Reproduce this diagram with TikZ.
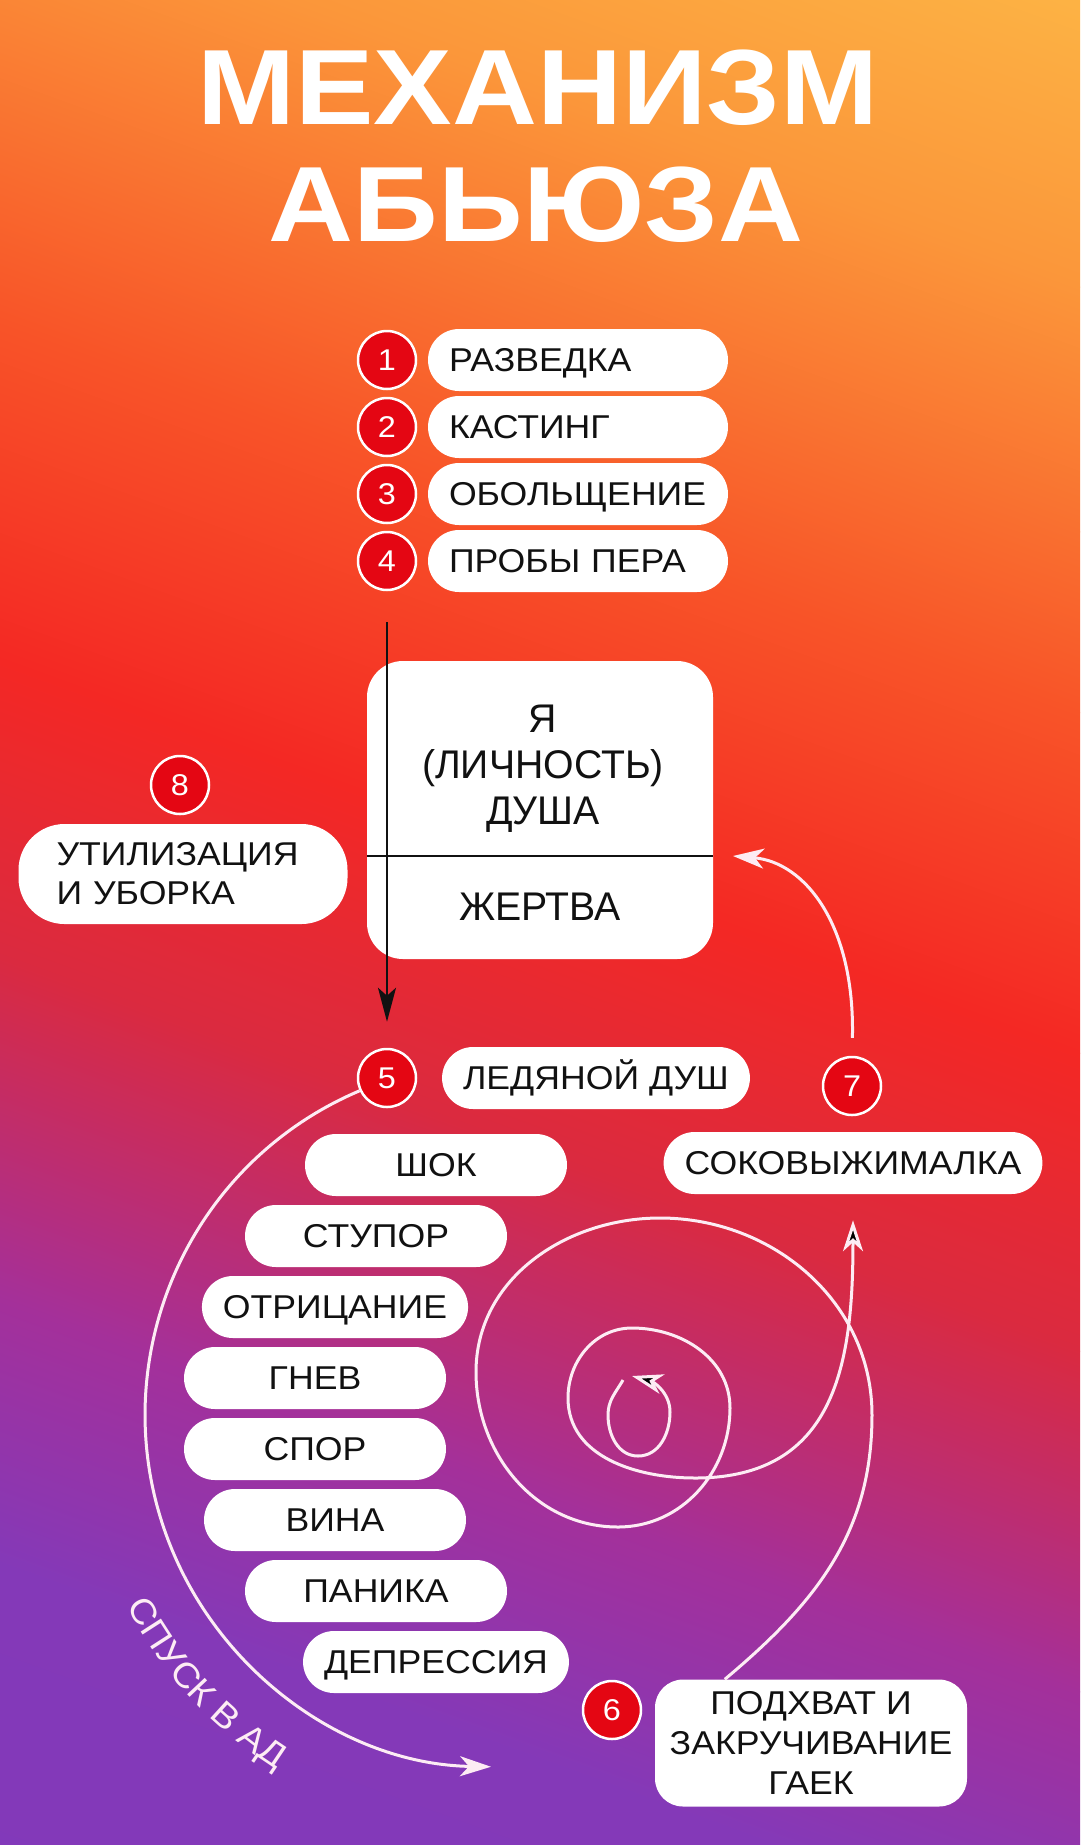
\documentclass[tikz,border=0pt]{standalone}
\usepackage{fontspec}
\setmainfont{Liberation Sans}[FakeStretch=1.08]
\newfontfamily\headfont{Liberation Sans}[FakeStretch=1.1]
\newfontfamily\boxfont{Liberation Sans}[FakeStretch=0.98]
\usetikzlibrary{arrows.meta,decorations.text}

\definecolor{numred}{RGB}{228,6,19}
\definecolor{inkblack}{RGB}{17,17,17}
\definecolor{flowwhite}{RGB}{253,236,244}
\definecolor{bgA}{RGB}{253,184,70}
\definecolor{bgB}{RGB}{251,150,58}
\definecolor{bgC}{RGB}{249,112,48}
\definecolor{bgD}{RGB}{248,84,40}
\definecolor{bgE}{RGB}{244,40,36}
\definecolor{bgF}{RGB}{218,42,64}
\definecolor{bgG}{RGB}{164,48,154}
\definecolor{bgH}{RGB}{132,57,184}
\definecolor{bgI}{RGB}{130,57,186}

\tikzset {
    style pill/.style={
        fill=white,
        rectangle, % Set the shape as a rectangle
        rounded corners=31pt,
        minimum height=62pt,
        inner xsep=21pt,
        text=inkblack,
        font=\fontsize{33}{39}\selectfont,
    },
    style tag/.style={
        style pill,
        text height=23.6pt,
        text depth=0pt,
    },
    style num/.style={
        circle,
        fill=numred,
        draw=white,
        line width=2.5pt,
        minimum size=58pt,
        inner sep=0pt,
        text=white,
        font=\fontsize{30}{30}\selectfont,
    },
    style box/.style={
        fill=white,
        rectangle, % Set the shape as a rectangle
        rounded corners=36pt,
        minimum width=346pt,
        minimum height=298pt,
    },
    style title/.style={
        text=white,
        anchor=base,
        font=\headfont\bfseries\fontsize{107}{110}\selectfont,
    },
    style rule/.style={
        draw=inkblack,
        line width=2.2pt,
    },
    style wire/.style={
        style rule,
        -{Stealth[length=34pt,width=18pt,inset=8pt]},
    },
    style flow/.style={
        draw=flowwhite,
        line width=3pt,
        -{Stealth[length=31pt,width=20pt,inset=9pt]},
    },
}

\begin{document}
\begin{tikzpicture}
[x=1pt, y=1pt, font=\fontsize{33}{39}\selectfont]

\useasboundingbox (0,0) rectangle (1080,-1845);

% background
\begin{scope}
\clip (0,0) rectangle (1080,-1845);
\begin{scope}[transform canvas={rotate around={-20:(540,-922)}}]
\shade[top color=bgA, bottom color=bgB] (-300,180) rectangle (1380,-141);
\shade[top color=bgB, bottom color=bgC] (-300,-140) rectangle (1380,-371);
\shade[top color=bgC, bottom color=bgD] (-300,-370) rectangle (1380,-541);
\shade[top color=bgD, bottom color=bgE] (-300,-540) rectangle (1380,-861);
\shade[top color=bgE, bottom color=bgF] (-300,-860) rectangle (1380,-1141);
\shade[top color=bgF, bottom color=bgG] (-300,-1140) rectangle (1380,-1461);
\shade[top color=bgG, bottom color=bgH] (-300,-1460) rectangle (1380,-1711);
\shade[top color=bgH, bottom color=bgI] (-300,-1710) rectangle (1380,-2045);
\end{scope}
\end{scope}

\node[style title] at (538,-124) (head1) {МЕХАНИЗМ};
\node[style title] at (536,-241) (head2) {АБЬЮЗА};

\node[style num] at (387,-360) (n1) {1};
\node[style num] at (387,-427) (n2) {2};
\node[style num] at (387,-494) (n3) {3};
\node[style num] at (387,-561) (n4) {4};
\node[style tag, text width=258pt, align=left] at (578,-360) (scout) {РАЗВЕДКА};
\node[style tag, text width=258pt, align=left] at (578,-427) (casting) {КАСТИНГ};
\node[style tag, text width=258pt, align=left] at (578,-494) (charm) {ОБОЛЬЩЕНИЕ};
\node[style tag, text width=258pt, align=left] at (578,-561) (probe) {ПРОБЫ ПЕРА};

\node[style box] at (540,-810) (core) {};
\node[font=\boxfont\fontsize{40}{46}\selectfont, align=center, text=inkblack] at (543,-769) (self) {Я\\(ЛИЧНОСТЬ)\\ДУША};
\node[font=\boxfont\fontsize{40}{46}\selectfont, text=inkblack, text height=28.6pt, text depth=0pt] at (540,-906) (victim) {ЖЕРТВА};
\coordinate (split) at (540,-856);
\draw[style rule] (core.west |- split) -- (core.east |- split);

\node[style num] at (180,-785) (n8) {8};
\node[style pill, minimum height=100pt, rounded corners=46pt, inner xsep=38pt, text width=253pt, align=left] at (183,-874) (cleanup) {УТИЛИЗАЦИЯ\\И УБОРКА};

\node[style num] at (387,-1078) (n5) {5};
\node[style tag] at (596,-1078) (shower) {ЛЕДЯНОЙ ДУШ};
\node[style num] at (852,-1086) (n7) {7};
\node[style tag] at (853,-1163) (juicer) {СОКОВЫЖИМАЛКА};

\node[style tag, minimum width=262pt] at (436,-1165) (shock) {ШОК};
\node[style tag, minimum width=262pt] at (376,-1236) (stupor) {СТУПОР};
\node[style tag, minimum width=262pt] at (335,-1307) (denial) {ОТРИЦАНИЕ};
\node[style tag, minimum width=262pt] at (315,-1378) (anger) {ГНЕВ};
\node[style tag, minimum width=262pt] at (315,-1449) (dispute) {СПОР};
\node[style tag, minimum width=262pt] at (335,-1520) (guilt) {ВИНА};
\node[style tag, minimum width=262pt] at (376,-1591) (panic) {ПАНИКА};
\node[style tag, minimum width=262pt] at (436,-1662) (gloom) {ДЕПРЕССИЯ};

\node[style num] at (612,-1710) (n6) {6};
\node[style pill, minimum width=312pt, minimum height=127pt, rounded corners=28pt, inner xsep=12pt, align=center, font=\fontsize{33}{40}\selectfont] at (811,-1743) (twist) {ПОДХВАТ И\\ЗАКРУЧИВАНИЕ\\ГАЕК};

\coordinate (dock) at (733,-856);
\coordinate (pit) at (500,-1414);

\draw[style wire, shorten <=31pt, shorten >=26pt] (n4) -- (n5);
\draw[style flow, shorten <=18pt] (n7.north) .. controls (855,-925) and (805,-862) .. (dock);
\draw[style flow] (n5.205) arc[start angle=113, end angle=269, radius=352];
\path[decorate, decoration={text along path, text={|\fontsize{35}{35}\selectfont|СПУСК В АД}, text align=center, text color=flowwhite}] ([shift={(192:420)}]pit) arc[start angle=192, end angle=253, radius=420];

% spiral
\draw[style flow] ([xshift=70pt]twist.north west) to[out=40, in=-90] (872,-1415) to[out=90, in=0] (660,-1218) to[out=180, in=90] (476,-1372) to[out=-90, in=180] (618,-1527) to[out=0, in=-90] (730,-1408) to[out=90, in=0] (632,-1328) to[out=180, in=90] (568,-1398) to[out=-90, in=180] (695,-1478) to[out=0, in=-90, looseness=1.2] ([yshift=-26pt]juicer.south);
\draw[style flow] (623,-1380) to[out=240, in=90] (608,-1415) to[out=-90, in=180] (638,-1456) to[out=0, in=-90] (670,-1412) to[out=90, in=-15] (632,-1376);
\end{tikzpicture}
\end{document}
